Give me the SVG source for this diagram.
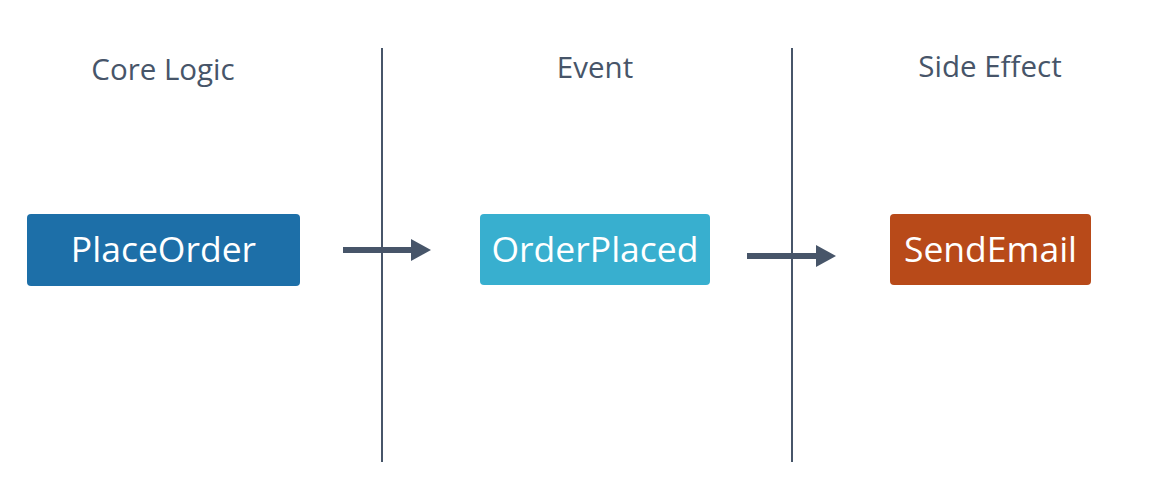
<svg xmlns="http://www.w3.org/2000/svg" width="1161" height="492" viewBox="0 0 1161 492">
<defs>
<style>
.title{font-family:"Open Sans","Noto Sans",sans-serif;font-size:29.5px;fill:#475569;text-anchor:middle}
.lbl{font-family:"Open Sans","Noto Sans",sans-serif;font-size:35.5px;fill:#ffffff;text-anchor:middle}
.div{stroke:#475569;stroke-width:2}
.conn{stroke:#475569;stroke-width:6;fill:none}
</style>
<marker id="ah" markerUnits="userSpaceOnUse" markerWidth="22" markerHeight="22" refX="0" refY="11" orient="auto" overflow="visible">
<path d="M0,0 L20,11 L0,22 Z" fill="#475569"/>
</marker>
</defs>
<rect width="1161" height="492" fill="#ffffff"/>
<g id="titles">
<text class="title" x="163" y="80">Core Logic</text>
<text class="title" x="595" y="78">Event</text>
<text class="title" x="990" y="77">Side Effect</text>
</g>
<g id="dividers">
<line class="div" x1="382" y1="48" x2="382" y2="462"/>
<line class="div" x1="792" y1="48" x2="792" y2="462"/>
</g>
<g id="PlaceOrder">
<rect x="27" y="214" width="273" height="72" rx="4" fill="#1d6fa8"/>
<text class="lbl" x="163.5" y="262">PlaceOrder</text>
</g>
<g id="OrderPlaced">
<rect x="480" y="214" width="230" height="71" rx="4" fill="#38afcf"/>
<text class="lbl" x="595" y="262">OrderPlaced</text>
</g>
<g id="SendEmail">
<rect x="890" y="214" width="201" height="71" rx="4" fill="#b84a19"/>
<text class="lbl" x="990.5" y="262">SendEmail</text>
</g>
<g id="connectors">
<line class="conn" x1="343" y1="250" x2="411" y2="250" marker-end="url(#ah)"/>
<line class="conn" x1="747" y1="256" x2="816" y2="256" marker-end="url(#ah)"/>
</g>
</svg>
